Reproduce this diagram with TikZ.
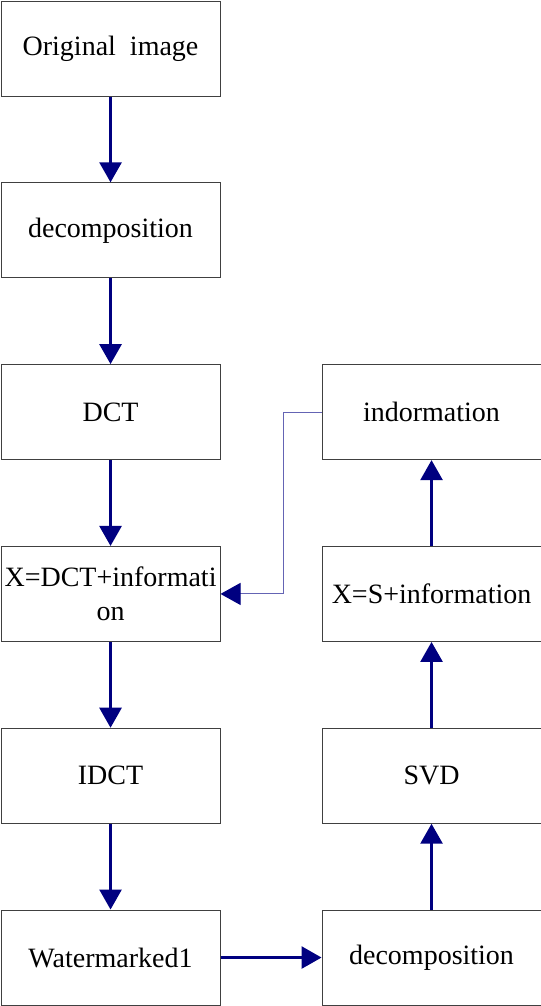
\documentclass[tikz,border=0pt]{standalone}
\usepackage{fontspec}
\setmainfont{Liberation Serif}
\usetikzlibrary{arrows.meta,positioning}
\definecolor{navyblue}{RGB}{0,0,128}
\definecolor{linkblue}{RGB}{100,100,180}

\begin{document}
\begin{tikzpicture}[
  node distance=64.35pt,
  stepbox/.style={draw=black!75, line width=0.75pt, minimum width=164.25pt, minimum height=71.25pt, align=center, font=\rmfamily\fontsize{21}{26}\selectfont, inner sep=0pt},
  arrow/.style={-{Triangle[width=16.5pt,length=15pt]}, line width=2pt, navyblue},
  link/.style={-{Triangle[width=16.5pt,length=15pt,color=navyblue,fill=navyblue]}, line width=0.75pt, linkblue}
]
\useasboundingbox (0,0) rectangle (405.75pt,-754.5pt);
% left column
\node[stepbox] (orig) at (82.9pt,-36.4pt) {Original~ image};
\node[stepbox, below=of orig] (decomp) {decomposition};
\node[stepbox, below=of decomp] (dct) {DCT};
\node[stepbox, below=of dct] (xdct) {X=DCT+informati\\on};
\node[stepbox, below=of xdct] (idct) {IDCT};
\node[stepbox, below=of idct] (wm) {Watermarked1};
% right column
\node[stepbox, right=75.75pt of wm] (decompb) {decomposition};
\node[stepbox, above=of decompb] (svd) {SVD};
\node[stepbox, above=of svd] (xs) {X=S+information};
\node[stepbox, above=of xs] (info) {indormation};
\draw[arrow] (orig) -- (decomp);
\draw[arrow] (decomp) -- (dct);
\draw[arrow] (dct) -- (xdct);
\draw[arrow] (xdct) -- (idct);
\draw[arrow] (idct) -- (wm);
\draw[arrow] (wm) -- (decompb);
\draw[arrow] (decompb) -- (svd);
\draw[arrow] (svd) -- (xs);
\draw[arrow] (xs) -- (info);
\draw[link] (info.west) -- ++(-28.5pt,0) |- (xdct.east);
\end{tikzpicture}
\end{document}
